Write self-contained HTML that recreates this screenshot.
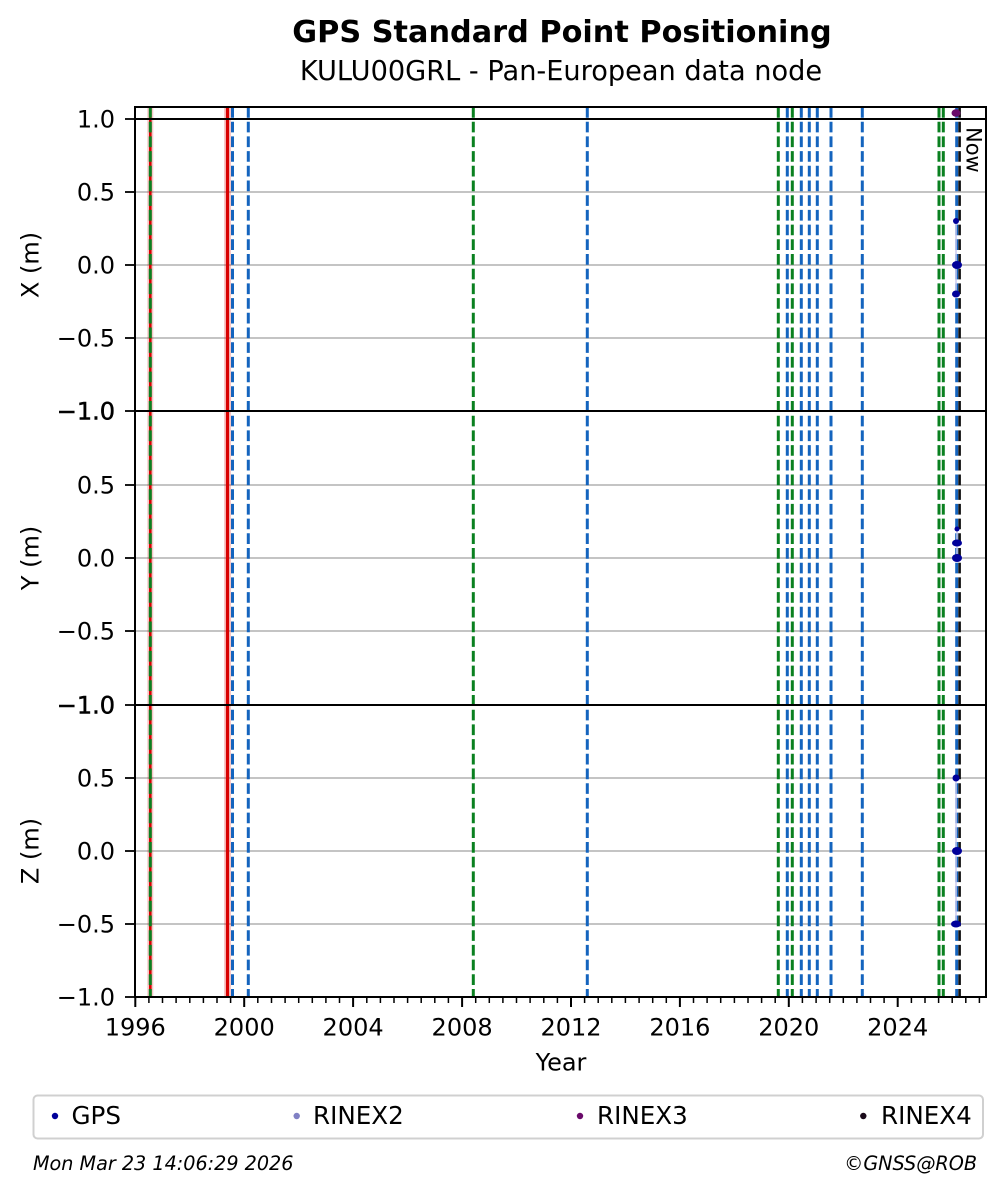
<!DOCTYPE html>
<html><head><meta charset="utf-8"><style>
html,body{margin:0;padding:0;background:#fff;}
svg{display:block;}
text{font-family:"DejaVu Sans","Liberation Sans",sans-serif;fill:#000;}
</style></head><body>
<svg width="1005" height="1194" viewBox="0 0 1005 1194" xmlns="http://www.w3.org/2000/svg">
<rect width="1005" height="1194" fill="#fff"/>
<!-- titles -->
<text x="562" y="42" font-size="30.3" font-weight="bold" text-anchor="middle">GPS Standard Point Positioning</text>
<text x="561" y="80" font-size="27.2" text-anchor="middle">KULU00GRL - Pan-European data node</text>

<!-- grid -->
<g stroke="#b0b0b0" stroke-width="1.6">
<line x1="135" y1="119" x2="986" y2="119"/>
<line x1="135" y1="192" x2="986" y2="192"/>
<line x1="135" y1="265" x2="986" y2="265"/>
<line x1="135" y1="338" x2="986" y2="338"/>
<line x1="135" y1="485" x2="986" y2="485"/>
<line x1="135" y1="558" x2="986" y2="558"/>
<line x1="135" y1="631" x2="986" y2="631"/>
<line x1="135" y1="778" x2="986" y2="778"/>
<line x1="135" y1="851" x2="986" y2="851"/>
<line x1="135" y1="924" x2="986" y2="924"/>
</g>

<!-- red solid lines with halo -->
<g>
<line x1="150.3" y1="107" x2="150.3" y2="997" stroke="rgba(220,0,0,0.22)" stroke-width="6"/>
<line x1="227.5" y1="107" x2="227.5" y2="997" stroke="rgba(220,0,0,0.22)" stroke-width="7"/>
<line x1="150.3" y1="107" x2="150.3" y2="997" stroke="#d80000" stroke-width="2.6"/>
<line x1="227.5" y1="107" x2="227.5" y2="997" stroke="#d80000" stroke-width="3.2"/>
</g>

<!-- green dashed -->
<g stroke="#0a8020" stroke-width="3" stroke-dasharray="10.7 4">
<line x1="150.3" y1="107" x2="150.3" y2="997"/>
<line x1="473.3" y1="107" x2="473.3" y2="997"/>
<line x1="778.3" y1="107" x2="778.3" y2="997"/>
<line x1="792.3" y1="107" x2="792.3" y2="997"/>
<line x1="939" y1="107" x2="939" y2="997"/>
<line x1="943.3" y1="107" x2="943.3" y2="997"/>
</g>
<!-- blue dashed -->
<g stroke="#1464be" stroke-width="3" stroke-dasharray="10.7 4">
<line x1="232.5" y1="107" x2="232.5" y2="997"/>
<line x1="248.3" y1="107" x2="248.3" y2="997"/>
<line x1="587.3" y1="107" x2="587.3" y2="997"/>
<line x1="787.3" y1="107" x2="787.3" y2="997"/>
<line x1="801.3" y1="107" x2="801.3" y2="997"/>
<line x1="809.3" y1="107" x2="809.3" y2="997"/>
<line x1="817.3" y1="107" x2="817.3" y2="997"/>
<line x1="831" y1="107" x2="831" y2="997"/>
<line x1="862.3" y1="107" x2="862.3" y2="997"/>
<line x1="956.7" y1="107" x2="956.7" y2="997"/>
</g>
<!-- black dashed (now) -->
<line x1="959.6" y1="107" x2="959.6" y2="997" stroke="#111" stroke-width="2.6" stroke-dasharray="10.7 4"/>

<!-- black hlines -->
<g stroke="#000" stroke-width="2">
<line x1="135" y1="119" x2="986" y2="119"/>
<line x1="135" y1="411" x2="986" y2="411"/>
<line x1="135" y1="705" x2="986" y2="705"/>
</g>

<!-- Now label -->
<text transform="translate(966.5,127) rotate(90)" font-size="21">Now</text>

<!-- data connecting lines -->
<g stroke="#c8c8ee" stroke-width="1.5">
<line x1="956" y1="221" x2="956" y2="294"/>
<line x1="957" y1="529" x2="957" y2="558"/>
<line x1="956" y1="778" x2="956" y2="924"/>
</g>
<!-- data points -->
<g fill="#00009a">
<circle cx="956" cy="221" r="3"/>
<ellipse cx="957" cy="265" rx="5" ry="4"/>
<ellipse cx="956" cy="294" rx="4" ry="3.5"/>
<circle cx="957" cy="529" r="2.5"/>
<ellipse cx="957" cy="543" rx="5" ry="3.5"/>
<ellipse cx="957" cy="558" rx="5" ry="4"/>
<circle cx="956" cy="778" r="3.5"/>
<ellipse cx="957" cy="851" rx="5" ry="4"/>
<ellipse cx="956" cy="924" rx="5" ry="3.5"/>
</g>
<ellipse cx="956" cy="113" rx="4.5" ry="3.8" fill="#6a0a6a"/>

<!-- axes frame -->
<rect x="135" y="107" width="851" height="890" fill="none" stroke="#000" stroke-width="2"/>

<!-- y ticks -->
<g stroke="#000" stroke-width="1.8">
<line x1="125" y1="119" x2="135" y2="119"/>
<line x1="125" y1="192" x2="135" y2="192"/>
<line x1="125" y1="265" x2="135" y2="265"/>
<line x1="125" y1="338" x2="135" y2="338"/>
<line x1="125" y1="411" x2="135" y2="411"/>
<line x1="125" y1="485" x2="135" y2="485"/>
<line x1="125" y1="558" x2="135" y2="558"/>
<line x1="125" y1="631" x2="135" y2="631"/>
<line x1="125" y1="705" x2="135" y2="705"/>
<line x1="125" y1="778" x2="135" y2="778"/>
<line x1="125" y1="851" x2="135" y2="851"/>
<line x1="125" y1="924" x2="135" y2="924"/>
<line x1="125" y1="997" x2="135" y2="997"/>
</g>
<g font-size="24" text-anchor="end">
<text x="115" y="127.5">1.0</text>
<text x="115" y="200.5">0.5</text>
<text x="115" y="273.5">0.0</text>
<text x="115" y="346.5">−0.5</text>
<text x="115" y="419.5" stroke="#000" stroke-width="0.5">−1.0</text>
<text x="115" y="493.5">0.5</text>
<text x="115" y="566.5">0.0</text>
<text x="115" y="639.5">−0.5</text>
<text x="115" y="713.5" stroke="#000" stroke-width="0.5">−1.0</text>
<text x="115" y="786.5">0.5</text>
<text x="115" y="859.5">0.0</text>
<text x="115" y="932.5">−0.5</text>
<text x="115" y="1005.5">−1.0</text>
</g>

<!-- y axis labels -->
<g font-size="24" text-anchor="middle">
<text transform="translate(38.5,265) rotate(-90)">X (m)</text>
<text transform="translate(38.5,558) rotate(-90)">Y (m)</text>
<text transform="translate(38.5,851) rotate(-90)">Z (m)</text>
</g>

<!-- x ticks -->
<path stroke="#000" stroke-width="2" d="M135.3 997V1007M244.2 997V1007M353.1 997V1007M462.1 997V1007M571 997V1007M679.9 997V1007M788.8 997V1007M897.7 997V1007"/>
<path stroke="#000" stroke-width="1.5" d="M148.9 997v6M162.5 997v6M176.1 997v6M189.8 997v6M203.4 997v6M217 997v6M230.6 997v6M257.8 997v6M271.5 997v6M285.1 997v6M298.7 997v6M312.3 997v6M325.9 997v6M339.5 997v6M366.8 997v6M380.4 997v6M394 997v6M407.6 997v6M421.2 997v6M434.8 997v6M448.4 997v6M475.7 997v6M489.3 997v6M502.9 997v6M516.5 997v6M530.1 997v6M543.8 997v6M557.4 997v6M584.6 997v6M598.2 997v6M611.8 997v6M625.4 997v6M639.1 997v6M652.7 997v6M666.3 997v6M693.5 997v6M707.1 997v6M720.7 997v6M734.4 997v6M748 997v6M761.6 997v6M775.2 997v6M802.4 997v6M816.1 997v6M829.7 997v6M843.3 997v6M856.9 997v6M870.5 997v6M884.1 997v6M911.4 997v6M925 997v6M938.6 997v6M952.2 997v6M965.8 997v6M979.4 997v6"/>
<g font-size="24" text-anchor="middle">
<text x="135.3" y="1035.5">1996</text>
<text x="244.2" y="1035.5">2000</text>
<text x="353.1" y="1035.5">2004</text>
<text x="462.1" y="1035.5">2008</text>
<text x="571" y="1035.5">2012</text>
<text x="679.9" y="1035.5">2016</text>
<text x="788.8" y="1035.5">2020</text>
<text x="897.7" y="1035.5">2024</text>
<text x="561" y="1070.5">Year</text>
</g>

<!-- legend -->
<rect x="33.5" y="1095.5" width="949.5" height="43" rx="4" ry="4" fill="#fff" stroke="#d0d0d0" stroke-width="2"/>
<circle cx="55" cy="1116" r="3.2" fill="#00009a"/>
<circle cx="296.7" cy="1116" r="3.2" fill="#8080c4"/>
<circle cx="580" cy="1116" r="3.2" fill="#6a0a6a"/>
<circle cx="863.3" cy="1116" r="3.2" fill="#1a0a1a"/>
<g font-size="24.6">
<text x="71.5" y="1124">GPS</text>
<text x="313" y="1124">RINEX2</text>
<text x="597" y="1124">RINEX3</text>
<text x="881" y="1124">RINEX4</text>
</g>

<!-- footer -->
<text x="33" y="1170" font-size="19.2" font-style="italic">Mon Mar 23 14:06:29 2026</text>
<text x="977" y="1170" font-size="19.2" font-style="italic" text-anchor="end">©GNSS@ROB</text>
</svg>
</body></html>
